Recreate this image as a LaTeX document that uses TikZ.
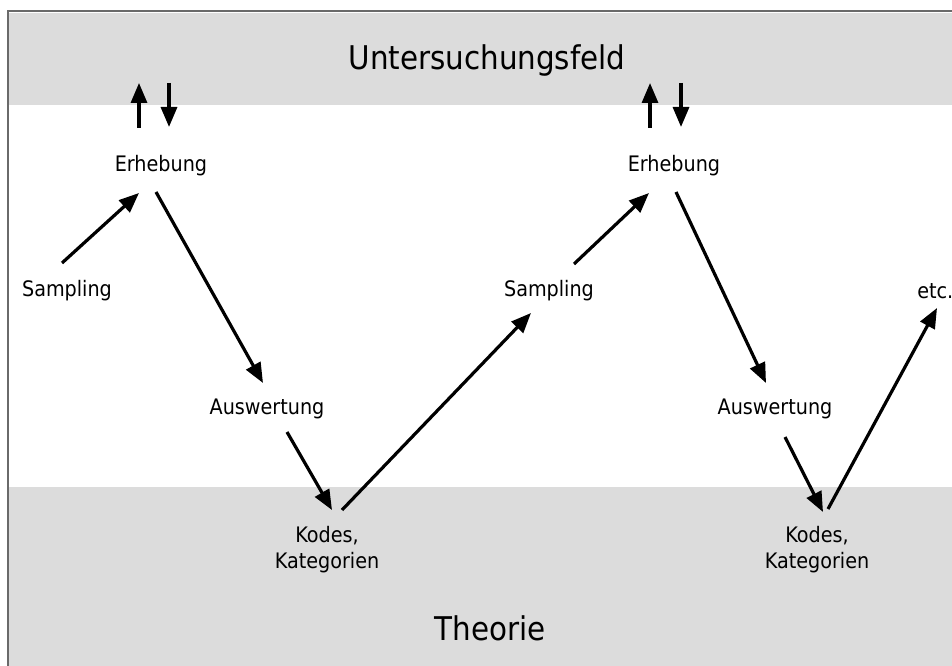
\documentclass[tikz,border=0pt]{standalone}
\usepackage{fontspec}
\setmainfont{DejaVu Sans Condensed}
\usetikzlibrary{arrows.meta,calc}
\definecolor{bandgray}{HTML}{DCDCDC}
\definecolor{framegray}{HTML}{6A6A6A}
\tikzset{
  lbl/.style={inner sep=0pt, align=center, font=\fontsize{16}{19.5}\selectfont},
  title/.style={inner sep=0pt, font=\fontsize{24.5}{28}\selectfont},
  arr/.style={line width=2.4pt, -{Triangle[length=15pt,width=12pt]}},
}
\begin{document}
\begin{tikzpicture}[x=0.75pt,y=-0.75pt]
\useasboundingbox (0,0) rectangle (952,666);
\clip (0,0) rectangle (952,666);
% background bands
\fill[bandgray] (8,13) rectangle (952,105);
\fill[bandgray] (8,487) rectangle (952,666);
% frame
\draw[framegray, line width=1.5pt] (7.5,666) -- (7.5,11.5) -- (952,11.5);

% labels
\node[title] (feld) at (487,60) {Untersuchungsfeld};
\node[title] (theo) at (490,628) {Theorie};

\node[lbl] (erh1)  at (161,166) {Erhebung};
\node[lbl] (samp1) at (67,291)  {Sampling};
\node[lbl] (ausw1) at (267,409) {Auswertung};
\node[lbl] (kod1)  at (327,550) {Kodes,\\Kategorien};

\node[lbl] (erh2)  at (674,166) {Erhebung};
\node[lbl] (samp2) at (549,291) {Sampling};
\node[lbl] (ausw2) at (775,409) {Auswertung};
\node[lbl] (kod2)  at (817,550) {Kodes,\\Kategorien};

\node[lbl, anchor=west] (etc) at (917,291) {etc.};

% exchange with the field
\draw[arr] ($(erh1)+(-22,-38)$) -- ($(erh1)+(-22,-83)$);
\draw[arr] ($(erh1)+(8,-83)$) -- ($(erh1)+(8,-39)$);
\draw[arr] ($(erh2)+(-24,-38)$) -- ($(erh2)+(-24,-83)$);
\draw[arr] ($(erh2)+(7,-83)$) -- ($(erh2)+(7,-39)$);

% research cycle
\draw[arr] ($(samp1)+(-5,-28)$) -- ($(erh1)+(-22,27)$);
\draw[arr] ($(erh1)+(-5,26)$) -- ($(ausw1)+(-4,-26)$);
\draw[arr] ($(ausw1)+(20,23)$) -- ($(kod1)+(5,-40)$);
\draw[arr] ($(kod1)+(15,-40)$) -- ($(samp2)+(-18,22)$);
\draw[arr] ($(samp2)+(25,-27)$) -- ($(erh2)+(-25,27)$);
\draw[arr] ($(erh2)+(2,26)$) -- ($(ausw2)+(-9,-26)$);
\draw[arr] ($(ausw2)+(10,28)$) -- ($(kod2)+(6,-38)$);
\draw[arr] ($(kod2)+(11,-41)$) -- ($(etc.west)+(20,17)$);
\end{tikzpicture}
\end{document}
